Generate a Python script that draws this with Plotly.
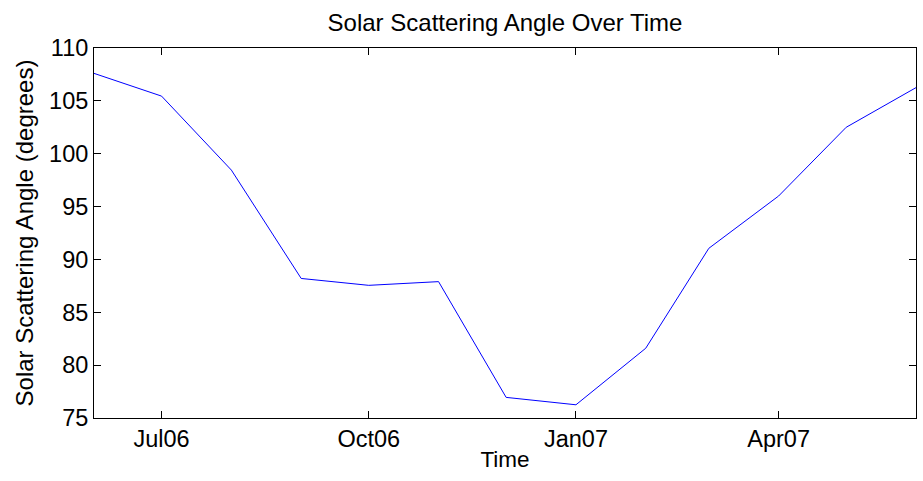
import plotly.graph_objects as go

dates = ["2006-06-01", "2006-07-01", "2006-08-01", "2006-09-01", "2006-10-01",
         "2006-11-01", "2006-12-01", "2007-01-01", "2007-02-01", "2007-03-01",
         "2007-04-01", "2007-05-01", "2007-06-01"]
angles = [107.6, 105.45, 98.45, 88.2, 87.55, 87.9, 76.95, 76.25, 81.6, 91.05,
          96.0, 102.5, 106.25]
tick_dates = ["2006-07-01", "2006-10-01", "2007-01-01", "2007-04-01"]
tick_labels = ["Jul06", "Oct06", "Jan07", "Apr07"]
y_ticks = [75, 80, 85, 90, 95, 100, 105, 110]

font = "Liberation Sans, Arial, Helvetica, sans-serif"

fig = go.Figure()
fig.add_trace(go.Scatter(x=dates, y=angles, mode="lines",
                         line=dict(color="rgb(0,0,255)", width=1)))

fig.update_layout(
    width=923, height=481,
    margin=dict(l=94, r=7, t=48, b=63),
    paper_bgcolor="white", plot_bgcolor="white",
    showlegend=False,
    font=dict(family=font, size=23.5, color="black"),
    title=dict(text="Solar Scattering Angle Over Time", xref="paper", x=0.5,
               xanchor="center", y=0.952, yanchor="middle", font=dict(size=24)),
)
fig.update_xaxes(
    type="date", range=["2006-06-01", "2007-06-01"],
    tickvals=tick_dates, ticktext=tick_labels,
    ticks="inside", ticklen=7, tickcolor="black", tickwidth=1,
    showline=True, linecolor="black", linewidth=1, mirror="ticks",
    showgrid=False, zeroline=False,
    title=dict(text="Time", standoff=0, font=dict(size=22.5)),
)
fig.update_yaxes(
    range=[75, 110], tickvals=y_ticks,
    ticks="inside", ticklen=7, tickcolor="black", tickwidth=1,
    showline=True, linecolor="black", linewidth=1, mirror="ticks",
    showgrid=False, zeroline=False,
    title=dict(text="Solar Scattering Angle (degrees)", standoff=8, font=dict(size=24)),
)

fig.write_html("out.html", config={"displayModeBar": False},
               post_script="document.body.style.margin='0';")
